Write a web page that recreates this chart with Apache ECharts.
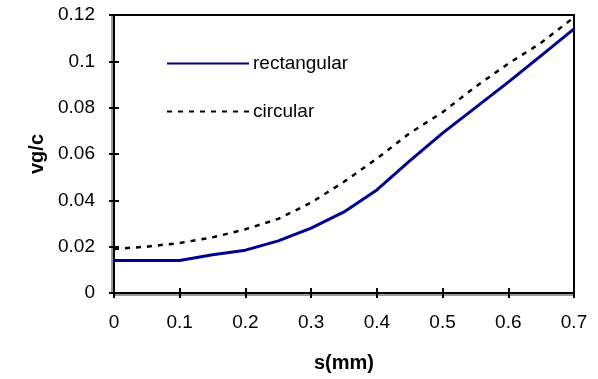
<!DOCTYPE html>
<html>
<head>
<meta charset="utf-8">
<script src="https://cdn.jsdelivr.net/npm/echarts@6/dist/echarts.min.js"></script>
<style>
  html, body { margin: 0; padding: 0; background: #fff; }
  #chart { width: 598px; height: 379px; }
</style>
</head>
<body>
<div id="chart"></div>
<script>
// s(mm) positions and vg/c values
const rectS = [0, 0.1, 0.15, 0.2, 0.25, 0.3, 0.35, 0.4, 0.45, 0.5, 0.55, 0.6, 0.65, 0.7];
const rectV = [0.014, 0.014, 0.0165, 0.0185, 0.0225, 0.028, 0.035, 0.0445, 0.057, 0.069, 0.08, 0.091, 0.1025, 0.114];

const circS = [0, 0.05, 0.1, 0.15, 0.2, 0.25, 0.3, 0.35, 0.4, 0.45, 0.5, 0.55, 0.6, 0.65, 0.7];
const circV = [0.019, 0.02, 0.0216, 0.024, 0.0275, 0.032, 0.039, 0.048, 0.058, 0.069, 0.078, 0.089, 0.099, 0.108, 0.119];

const seriesNames = ["rectangular", "circular"];

const font = "Liberation Sans, Arial, sans-serif";

const chart = echarts.init(document.getElementById("chart"), null, { renderer: "canvas" });

const baseX = {
  type: "value",
  min: 0,
  max: 0.7,
  interval: 0.1,
  position: "bottom",
  splitLine: { show: false },
};
const baseY = {
  type: "value",
  min: 0,
  max: 0.12,
  interval: 0.02,
  position: "left",
  splitLine: { show: false },
};

chart.setOption({
  animation: false,
  backgroundColor: "#fff",
  grid: {
    left: 114,
    right: 24,
    top: 15,
    bottom: 86,
    show: true,
    borderColor: "#000",
    borderWidth: 2,
  },
  legend: {
    orient: "vertical",
    left: 166,
    top: 54,
    padding: 0,
    itemWidth: 82,
    itemHeight: 20,
    itemGap: 29,
    data: seriesNames,
    itemStyle: { opacity: 0 },
    textStyle: { fontFamily: font, fontSize: 19, color: "#000", padding: [0, 0, 0, -1] },
  },
  xAxis: [
    {
      ...baseX,
      name: "s(mm)",
      nameLocation: "middle",
      nameGap: 60,
      nameTextStyle: { fontFamily: font, fontSize: 20, fontWeight: "bold", color: "#000" },
      axisLine: { lineStyle: { color: "#000", width: 2, shadowColor: "#999", shadowOffsetY: 2 } },
      axisTick: { length: 5, lineStyle: { color: "#000", width: 2 } },
      axisLabel: { fontFamily: font, fontSize: 19, color: "#000", margin: 20 },
    },
    {
      ...baseX,
      axisLine: { show: false },
      axisTick: { inside: true, length: 5, lineStyle: { color: "#000", width: 2 } },
      axisLabel: { show: false },
    },
  ],
  yAxis: [
    {
      ...baseY,
      name: "vg/c",
      nameLocation: "middle",
      nameGap: 64,
      nameRotate: 90,
      nameTextStyle: { fontFamily: font, fontSize: 20, fontWeight: "bold", color: "#000" },
      axisLine: { lineStyle: { color: "#000", width: 2, shadowColor: "#999", shadowOffsetX: -2 } },
      axisTick: { length: 5, lineStyle: { color: "#000", width: 2 } },
      axisLabel: { fontFamily: font, fontSize: 19, color: "#000", margin: 19 },
    },
    {
      ...baseY,
      axisLine: { show: false },
      axisTick: { inside: true, length: 5, lineStyle: { color: "#000", width: 2 } },
      axisLabel: { show: false },
    },
  ],
  series: [
    {
      name: seriesNames[0],
      type: "line",
      symbol: "none",
      color: "#000090",
      lineStyle: { color: "#000090", width: 3 },
      data: rectS.map((s, i) => [s, rectV[i]]),
    },
    {
      name: seriesNames[1],
      type: "line",
      symbol: "none",
      color: "#000",
      lineStyle: { color: "#000", width: 2.5, type: [5, 6] },
      data: circS.map((s, i) => [s, circV[i]]),
    },
  ],
});
</script>
</body>
</html>
